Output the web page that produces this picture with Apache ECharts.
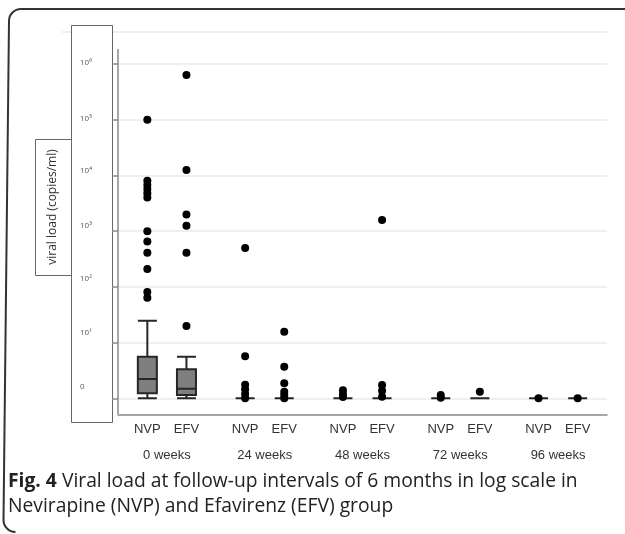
<!DOCTYPE html>
<html><head><meta charset="utf-8">
<script src="https://cdn.jsdelivr.net/npm/echarts@6/dist/echarts.min.js"></script>
<style>html,body{margin:0;padding:0;background:#fff}#c{width:625px;height:534px}</style>
</head><body><div id="c"></div>
<script>
// ---- data ----
const weekLabels = ['0 weeks', '24 weeks', '48 weeks', '72 weeks', '96 weeks'];
const drugLabels = ['NVP', 'EFV'];
const yTickLabels = ['0', '10¹', '10²', '10³', '10⁴', '10⁵', '10⁶'];
// box statistics per week: [min, Q1, median, Q3, max] (copies/ml, 1 = "0")
const boxNVP = [[1, 1.23, 2.22, 5.58, 24.7], [1, 1, 1, 1, 1], [1, 1, 1, 1, 1], [1, 1, 1, 1, 1], [1, 1, 1, 1, 1]];
const boxEFV = [[1, 1.15, 1.49, 3.31, 5.58], [1, 1, 1, 1, 1], [1, 1, 1, 1, 1], [1, 1, 1, 1, 1], [1, 1, 1, 1, 1]];
// outliers per week
const outNVP = [
  [100000, 8000, 6700, 5700, 4800, 4000, 1000, 650, 410, 210, 81, 64],
  [500, 5.7, 1.75, 1.45, 1.2, 1],
  [1.4, 1.2, 1.05],
  [1.15, 1.02],
  [1]
];
const outEFV = [
  [634000, 12500, 2000, 1250, 410, 19.8],
  [15.7, 3.7, 1.86, 1.31, 1.15, 1],
  [1585, 1.73, 1.37, 1.07],
  [1.31],
  [1]
];

// ---- layout helpers ----
const SLOTS_PER_WEEK = 5;
const nSlots = weekLabels.length * SLOTS_PER_WEEK;
const slotOf = (g, d) => g * SLOTS_PER_WEEK + 1 + 2 * d;
const categories = Array.from({length: nSlots}, (_, i) => 'c' + i);

const boxRows = [];
const pts = [];
[boxNVP, boxEFV].forEach((arr, d) => arr.forEach((b, g) => boxRows.push([slotOf(g, d)].concat(b))));
[outNVP, outEFV].forEach((arr, d) => arr.forEach((vals, g) => vals.forEach(v => pts.push([slotOf(g, d), v]))));

const labelLift = [12, 10, 8, 5, 5, 1, 1];
const rich = {};
labelLift.forEach((o, i) => { rich['e' + i] = {fontSize: 8, color: '#595959', fontFamily: 'Open Sans', padding: [0, 0, 2 * o, 0]}; });

const gridColor = '#e4ebef';
const axisColor = '#8a8a8a';
const textFont = 'Liberation Sans';
const frame = {stroke: '#333', lineWidth: 2, fill: 'none'};

const chart = echarts.init(document.getElementById('c'), null, {renderer: 'canvas'});
chart.setOption({
  animation: false,
  backgroundColor: '#fff',
  title: {
    left: 3, top: 464,
    text: '{b|Fig. 4} Viral load at follow-up intervals of 6 months in log scale in\nNevirapine (NVP) and Efavirenz (EFV) group',
    textStyle: {
      fontFamily: 'Open Sans', fontSize: 19.3, fontWeight: 'normal', color: '#222', lineHeight: 25,
      rich: {b: {fontFamily: 'Open Sans', fontSize: 19.3, fontWeight: 'bold', color: '#222', lineHeight: 25}}
    }
  },
  grid: {left: 118, right: 18, top: 64, bottom: 135.7, containLabel: false},
  xAxis: [{
    type: 'category', data: categories, position: 'bottom', offset: 16,
    axisLine: {show: true, lineStyle: {color: axisColor, width: 1.5}},
    axisTick: {show: false},
    splitLine: {show: false},
    axisLabel: {
      interval: 0, margin: 9, fontFamily: textFont, fontSize: 13, color: '#333',
      formatter: (v, i) => { const k = i % SLOTS_PER_WEEK; return k === 1 ? drugLabels[0] : (k === 3 ? drugLabels[1] : ''); }
    }
  }, {
    type: 'category', data: categories, position: 'bottom', offset: 16,
    axisLine: {show: false}, axisTick: {show: false}, splitLine: {show: false},
    axisLabel: {
      interval: 0, margin: 35, fontFamily: textFont, fontSize: 13, color: '#333',
      formatter: (v, i) => (i % SLOTS_PER_WEEK === 2 ? weekLabels[(i - 2) / SLOTS_PER_WEEK] : '')
    }
  }],
  yAxis: {
    type: 'log', logBase: 10, min: 1, max: 1e6, splitNumber: 6,
    axisLine: {show: false},
    axisTick: {show: true, length: 6, lineStyle: {color: axisColor, width: 1.5}},
    splitLine: {show: true, lineStyle: {color: gridColor, width: 1.5}},
    axisLabel: {
      margin: 38, align: 'left', fontSize: 8, color: '#595959', fontFamily: 'Open Sans',
      formatter: v => { const e = Math.round(Math.log10(v)); return '{e' + e + '|' + yTickLabels[e] + '}'; },
      rich: rich
    }
  },
  graphic: [
    {type: 'line', z: -10, shape: {x1: 62, y1: 32, x2: 607, y2: 32}, style: {stroke: gridColor, lineWidth: 1.5}},
    {type: 'rect', z: -5, shape: {x: 71.5, y: 25.5, width: 41, height: 397}, style: {fill: '#fff', stroke: '#666', lineWidth: 1}},
    {type: 'rect', z: -5, shape: {x: 35.5, y: 139.5, width: 36, height: 136}, style: {fill: '#fff', stroke: '#666', lineWidth: 1}},
    {type: 'text', z: 5, x: 53, y: 207, rotation: Math.PI / 2,
      style: {text: 'viral load (copies/ml)', fontSize: 12, fontFamily: 'Open Sans', fill: '#333', align: 'center', verticalAlign: 'middle'}},
    {type: 'line', z: 5, shape: {x1: 118, y1: 49, x2: 118, y2: 414}, style: {stroke: axisColor, lineWidth: 1.5}},
    {type: 'line', z: 5, shape: {x1: 21, y1: 9, x2: 627, y2: 9}, style: frame},
    {type: 'arc', z: 5, shape: {cx: 21, cy: 21, r: 12, startAngle: Math.PI, endAngle: Math.PI * 1.5, clockwise: true}, style: frame},
    {type: 'line', z: 5, shape: {x1: 9, y1: 21, x2: 3.5, y2: 520}, style: frame},
    {type: 'arc', z: 5, shape: {cx: 15.5, cy: 520, r: 12, startAngle: Math.PI * 0.5, endAngle: Math.PI, clockwise: true}, style: frame}
  ],
  series: [{
    type: 'boxplot',
    xAxisIndex: 0,
    encode: {x: 0, y: [1, 2, 3, 4, 5]},
    data: boxRows,
    boxWidth: [19, 19],
    itemStyle: {color: '#7f7f7f', borderColor: '#262626', borderWidth: 2},
    z: 3
  }, {
    type: 'scatter',
    xAxisIndex: 0,
    data: pts,
    symbol: 'circle', symbolSize: 8,
    itemStyle: {color: '#000', opacity: 1},
    clip: false,
    z: 4
  }]
});
</script></body></html>
